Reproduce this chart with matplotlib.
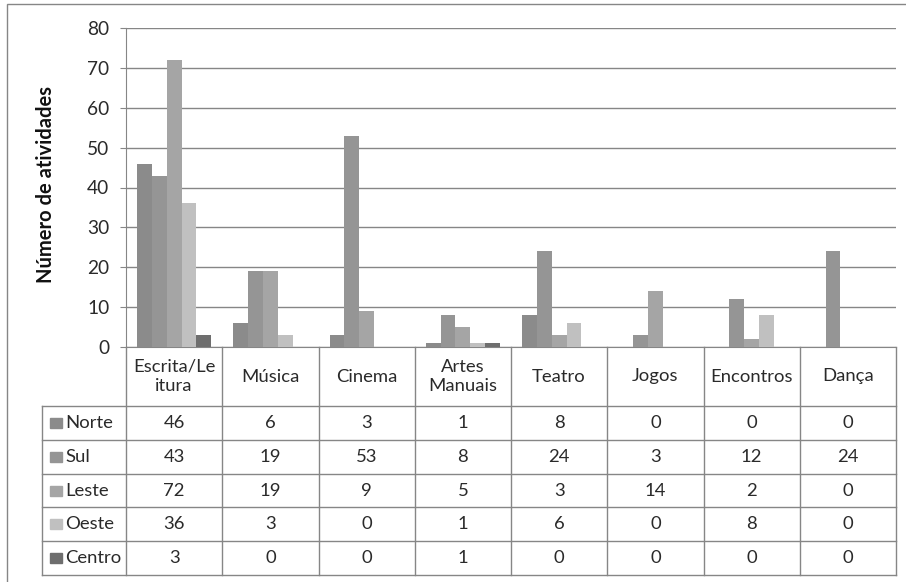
import numpy as np
import matplotlib.pyplot as plt
from matplotlib.patches import Rectangle

categorias = ["Escrita/Le\nitura", "Música", "Cinema", "Artes\nManuais",
              "Teatro", "Jogos", "Encontros", "Dança"]
regioes = ["Norte", "Sul", "Leste", "Oeste", "Centro"]
norte = [46, 6, 3, 1, 8, 0, 0, 0]
sul = [43, 19, 53, 8, 24, 3, 12, 24]
leste = [72, 19, 9, 5, 3, 14, 2, 0]
oeste = [36, 3, 0, 1, 6, 0, 8, 0]
centro = [3, 0, 0, 1, 0, 0, 0, 0]
series = [norte, sul, leste, oeste, centro]
cores = ["#8b8b8b", "#959595", "#a5a5a5", "#c0c0c0", "#6e6e6e"]

plt.rcParams['font.family'] = ['Lato', 'DejaVu Sans']
linha = "#868686"
texto = "#2a2a2a"
fs = 13.3

W, H = 906, 582
fig = plt.figure(figsize=(W / 100, H / 100), dpi=100)


def caixa(l, t, r, b):
    return [l / W, 1 - b / H, (r - l) / W, (b - t) / H]


# moldura externa
fig.add_artist(Rectangle((7 / W, -0.1), 1.2, 1 - 4 / H + 0.1,
                         transform=fig.transFigure, fill=False,
                         edgecolor=linha, lw=1))

# gráfico de colunas
ax = fig.add_axes(caixa(126, 28, 896, 347))
x = np.arange(len(categorias))
larg = 0.154
for i, (vals, cor) in enumerate(zip(series, cores)):
    ax.bar(x + (i - 2) * larg, vals, larg, color=cor, zorder=3)
ax.set_xlim(-0.5, len(categorias) - 0.5)
ax.set_ylim(0, 80)
ax.set_yticks(range(0, 81, 10))
ax.set_xticks([])
ax.grid(axis='y', color=linha, lw=1, zorder=0)
for s in ['top', 'right']:
    ax.spines[s].set_visible(False)
for s in ['left', 'bottom']:
    ax.spines[s].set_color(linha)
ax.tick_params(axis='y', length=4, color=linha, labelsize=fs + 0.5,
               labelcolor=texto, pad=8)
ax.set_ylabel("Número de atividades", fontsize=14.5, fontweight='bold',
              color='#111111')
ax.yaxis.set_label_coords((56 - 126) / 770, 0.51)

# tabela de dados
lab_w = 84 / 96.25
tax = fig.add_axes(caixa(42, 347, 896, 575))
tax.set_xlim(-0.5 - lab_w, len(categorias) - 0.5)
tax.set_ylim(228, 0)
tax.axis('off')
topo = 59
alt = 33.8
linhas_y = [topo + alt * k for k in range(len(regioes) + 1)]
for y in linhas_y:
    tax.plot([-0.5 - lab_w, len(categorias) - 0.5], [y, y], color=linha,
             lw=1, clip_on=False)
for k in range(len(categorias) + 1):
    tax.plot([k - 0.5, k - 0.5], [0, linhas_y[-1]], color=linha, lw=1,
             clip_on=False)
tax.plot([-0.5 - lab_w] * 2, [topo, linhas_y[-1]], color=linha, lw=1,
         clip_on=False)

for j, nome in enumerate(categorias):
    tax.text(j, topo / 2, nome, ha='center', va='center', fontsize=fs,
             color=texto, linespacing=1.3)

for i, (nome, vals, cor) in enumerate(zip(regioes, series, cores)):
    yc = topo + alt * (i + 0.5)
    tax.add_patch(Rectangle((-0.5 - lab_w + 0.085, yc - 5), 0.12, 10,
                            color=cor, clip_on=False))
    tax.text(-0.5 - lab_w + 0.245, yc, nome, ha='left', va='center',
             fontsize=fs, color=texto)
    for j, v in enumerate(vals):
        tax.text(j, yc, str(v), ha='center', va='center', fontsize=fs,
                 color=texto)

fig.savefig("out.png", dpi=100)
